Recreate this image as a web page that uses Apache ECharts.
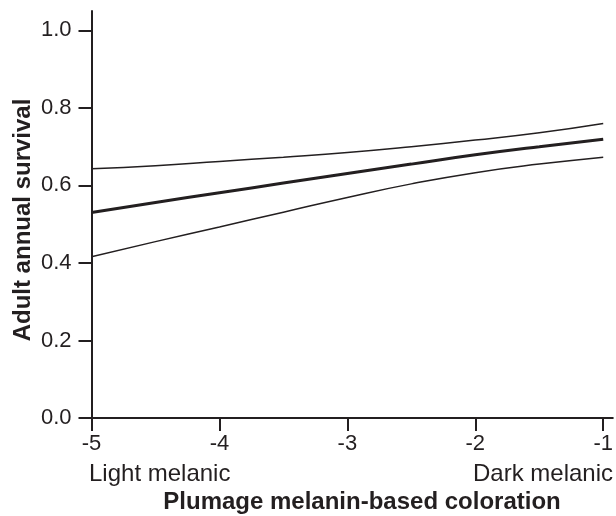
<!DOCTYPE html>
<html>
<head>
<meta charset="utf-8">
<script src="https://cdn.jsdelivr.net/npm/echarts@6/dist/echarts.min.js"></script>
<style>html,body{margin:0;padding:0;background:#fff;}#c{width:616px;height:516px;}</style>
</head>
<body>
<div id="c"></div>
<script>
const xValues = [-5, -4.5, -4, -3.5, -3, -2.5, -2, -1.5, -1];
const upperCI = [0.643, 0.651, 0.662, 0.673, 0.685, 0.700, 0.717, 0.736, 0.760];
const estimate = [0.530, 0.556, 0.581, 0.606, 0.631, 0.655, 0.679, 0.700, 0.719];
const lowerCI = [0.416, 0.455, 0.493, 0.531, 0.569, 0.604, 0.633, 0.655, 0.673];
const xTicks = [-5, -4, -3, -2, -1];
const yTicks = [0, 0.2, 0.4, 0.6, 0.8, 1.0];
const xTitle = 'Plumage melanin-based coloration';
const yTitle = 'Adult annual survival';
const xLeftNote = 'Light melanic';
const xRightNote = 'Dark melanic';

const ink = '#231f20';
const font = 'Liberation Sans, Arial, Helvetica, sans-serif';
const pair = (ys) => xValues.map((x, i) => [x, ys[i]]);

const chart = echarts.init(document.getElementById('c'), null, {renderer: 'canvas'});
chart.setOption({
  animation: false,
  backgroundColor: '#fff',
  grid: {left: 91.5, right: 3, top: 11, bottom: 98, containLabel: false},
  xAxis: {
    type: 'value', min: -5, max: -0.925,
    splitLine: {show: false},
    axisLine: {onZero: false, lineStyle: {color: ink, width: 2}},
    axisTick: {show: true, length: 13, inside: false, customValues: xTicks, lineStyle: {color: ink, width: 2}},
    axisLabel: {customValues: xTicks, margin: 15, color: ink, fontSize: 22, fontFamily: font,
      formatter: v => String(v)}
  },
  yAxis: {
    type: 'value', min: 0, max: 1.05,
    splitLine: {show: false},
    axisLine: {show: true, onZero: false, lineStyle: {color: ink, width: 2}},
    axisTick: {show: true, length: 13, inside: false, customValues: yTicks, lineStyle: {color: ink, width: 2}},
    axisLabel: {customValues: yTicks, margin: 20, color: ink, fontSize: 22, fontFamily: font,
      formatter: v => v.toFixed(1)}
  },
  series: [
    {type: 'line', data: pair(upperCI), smooth: true, showSymbol: false, lineStyle: {color: ink, width: 1.5}},
    {type: 'line', data: pair(estimate), smooth: true, showSymbol: false, lineStyle: {color: ink, width: 3}},
    {type: 'line', data: pair(lowerCI), smooth: true, showSymbol: false, lineStyle: {color: ink, width: 1.5}}
  ],
  graphic: [
    {type: 'text', x: 89, y: 474, style: {text: xLeftNote, fill: ink, font: '24px ' + font, align: 'left', verticalAlign: 'middle'}},
    {type: 'text', x: 613, y: 474, style: {text: xRightNote, fill: ink, font: '24px ' + font, align: 'right', verticalAlign: 'middle'}},
    {type: 'text', x: 362, y: 502, style: {text: xTitle, fill: ink, font: 'bold 24px ' + font, align: 'center', verticalAlign: 'middle'}},
    {type: 'text', x: 23, y: 220, rotation: Math.PI / 2, style: {text: yTitle, fill: ink, font: 'bold 24px ' + font, align: 'center', verticalAlign: 'middle'}}
  ]
});
</script>
</body>
</html>
